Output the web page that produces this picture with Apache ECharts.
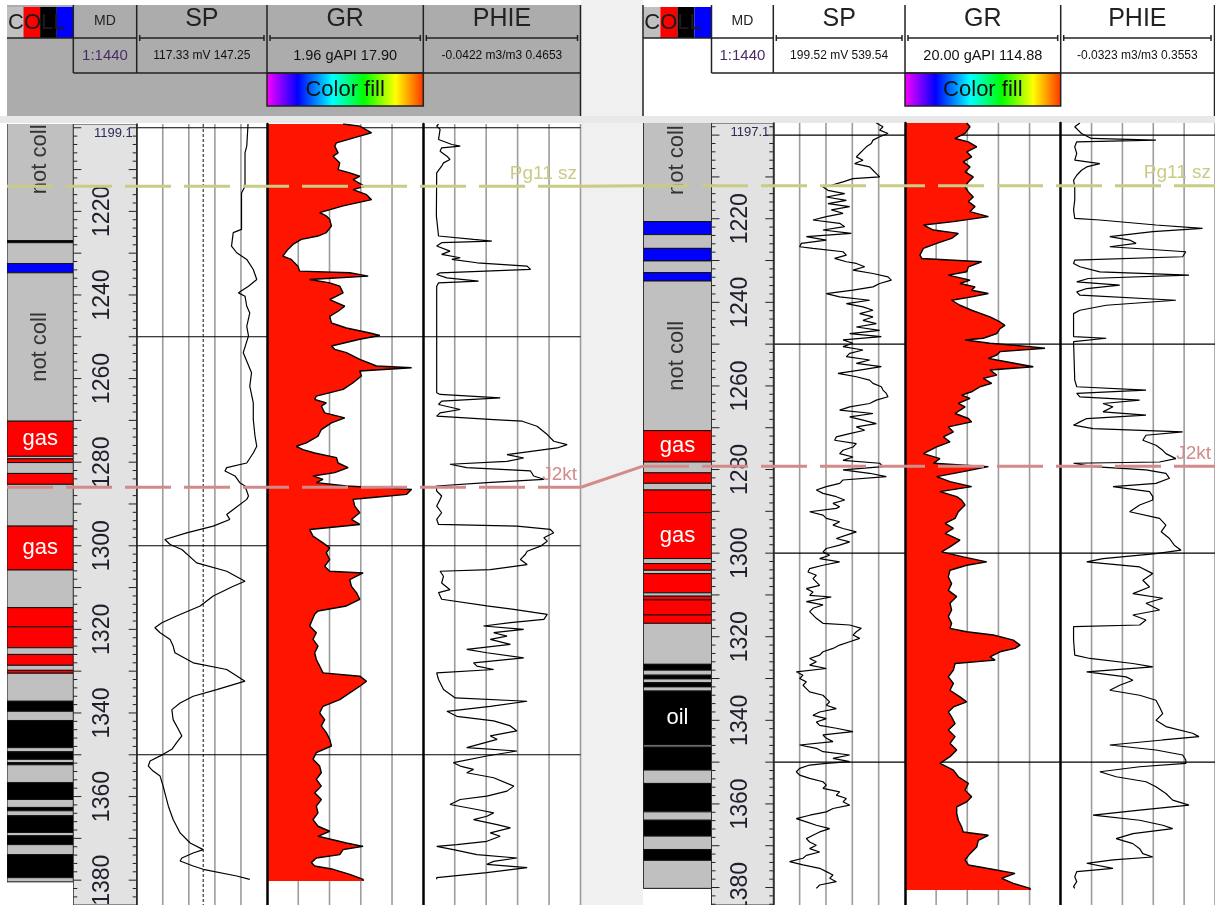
<!DOCTYPE html>
<html>
<head>
<meta charset="utf-8">
<script src="https://cdn.jsdelivr.net/npm/echarts/dist/echarts.min.js"></script>
<style>
html,body{margin:0;padding:0;background:#fff;}
#chart{width:1215px;height:905px;}
</style>
</head>
<body>
<div id="chart"></div>
<script>
const FONT = '"Liberation Sans", Arial, sans-serif';

// ---- depth axes ----
const leftDepthRange = [1199.1, 1385.94];
const rightDepthRange = [1197.1, 1384.18];
const depthLabels = [1220, 1240, 1260, 1280, 1300, 1320, 1340, 1360, 1380];
const depthGridLines = [1200, 1250, 1300, 1350];

// ---- curve scales (left / right edge of each track) ----
const leftSPScale = [117.33, 147.25];
const leftGRScale = [1.96, 17.90];
const leftPHIEScale = [-0.0422, 0.4653];
const rightSPScale = [199.52, 539.54];
const rightGRScale = [20.00, 114.88];
const rightPHIEScale = [-0.0323, 0.3553];
const leftSPBaseline = 132.6;

// ---- formation tops [name, depth] ----
const topsLeft = [['Pg11 sz', 1214.0], ['J2kt', 1286.0]];
const topsRight = [['Pg11 sz', 1212.1], ['J2kt', 1279.2]];
const topColors = {'Pg11 sz': '#cbcb86', 'J2kt': '#d28b8b'};

// ---- COLL intervals [top, bottom, class, label]; class 0 not coll, 1 gas, 2 oil, 3 water ----
const collColors = ['#c0c0c0', '#ff0000', '#000000', '#0000ff'];
const leftColl = [
  [1188.1, 1227.0, 0, 'not coll'], [1227.0, 1227.5, 2], [1227.5, 1232.5, 0], [1232.5, 1234.7, 3],
  [1234.7, 1270.2, 0, 'not coll'], [1270.2, 1278.6, 1, 'gas'], [1278.6, 1279.2, 0], [1279.2, 1280.1, 1],
  [1280.1, 1282.7, 0], [1282.7, 1285.3, 1], [1285.3, 1295.3, 0], [1295.3, 1305.8, 1, 'gas'],
  [1305.8, 1314.8, 0], [1314.8, 1319.4, 1], [1319.4, 1324.4, 1], [1324.4, 1326.0, 0],
  [1326.0, 1328.6, 1], [1328.6, 1329.8, 0], [1329.8, 1330.5, 1], [1330.5, 1337.2, 0],
  [1337.2, 1339.6, 2], [1339.6, 1341.8, 0], [1341.8, 1348.3, 2], [1348.3, 1349.3, 0],
  [1349.3, 1351.1, 2], [1351.1, 1351.9, 0], [1351.9, 1352.4, 2], [1352.4, 1356.7, 0],
  [1356.7, 1360.7, 2], [1360.7, 1362.6, 0], [1362.6, 1363.4, 2], [1363.4, 1364.6, 0],
  [1364.6, 1368.6, 2], [1368.6, 1369.4, 0], [1369.4, 1371.5, 2], [1371.5, 1373.9, 0],
  [1373.9, 1379.4, 2], [1379.4, 1380.4, 0]
];
const rightColl = [
  [1191.3, 1220.7, 0, 'not coll'], [1220.7, 1223.8, 3], [1223.8, 1227.1, 0], [1227.1, 1230.1, 3],
  [1230.1, 1232.9, 0], [1232.9, 1234.9, 3], [1234.9, 1270.7, 0, 'not coll'], [1270.7, 1278.2, 1, 'gas'],
  [1278.2, 1280.8, 0], [1280.8, 1283.3, 1], [1283.3, 1284.9, 0], [1284.9, 1290.3, 1],
  [1290.3, 1301.3, 1, 'gas'], [1301.3, 1302.5, 0], [1302.5, 1304.1, 1], [1304.1, 1304.9, 0],
  [1304.9, 1309.5, 1], [1309.5, 1310.3, 0], [1310.3, 1311.2, 1], [1311.2, 1314.8, 1],
  [1314.8, 1316.8, 1], [1316.8, 1326.6, 0], [1326.6, 1328.0, 2], [1328.0, 1329.2, 0],
  [1329.2, 1330.1, 2], [1330.1, 1331.0, 0], [1331.0, 1332.0, 2], [1332.0, 1333.0, 0],
  [1333.0, 1345.9, 2, 'oil'], [1345.9, 1346.4, 0], [1346.4, 1351.9, 2], [1351.9, 1355.1, 0],
  [1355.1, 1361.9, 2], [1361.9, 1363.9, 0], [1363.9, 1367.7, 2], [1367.7, 1370.9, 0],
  [1370.9, 1373.5, 2], [1373.5, 1380.2, 0]
];

// ---- log curves [depth, value] ----
const leftSP = [
  [1199.1,142.9],[1204.4,142.6],[1206.0,142.2],[1214.0,142.2],[1215.6,141.4],[1224.3,141.4],[1225.1,139.5],
  [1228.3,139.1],[1229.9,140.3],[1231.5,142.6],[1233.9,144.1],[1236.3,144.9],[1237.9,143.0],[1239.5,140.7],
  [1240.3,142.2],[1242.7,142.6],[1244.3,143.3],[1247.5,142.6],[1249.8,143.0],[1253.8,141.8],[1258.6,143.7],
  [1261.8,143.3],[1265.8,144.1],[1269.8,144.1],[1273.8,144.5],[1276.2,144.9],[1277.8,144.1],[1280.2,142.6],
  [1281.3,138.0],[1282.1,137.6],[1283.3,139.9],[1284.9,141.0],[1285.7,142.2],[1288.1,143.0],[1288.9,142.6],
  [1291.3,139.5],[1292.5,138.0],[1293.7,138.7],[1295.3,134.9],[1296.9,128.8],[1298.5,123.8],[1299.7,125.0],
  [1300.9,127.7],[1304.1,131.1],[1306.1,138.0],[1308.5,142.2],[1309.7,139.5],[1312.0,134.9],[1314.4,131.9],
  [1316.8,126.5],[1318.4,123.1],[1319.6,121.5],[1320.8,122.7],[1322.4,125.0],[1324.0,125.7],[1325.6,126.1],
  [1328.0,130.3],[1329.6,138.0],[1332.4,142.2],[1334.4,135.7],[1336.0,130.3],[1337.6,127.3],[1339.2,125.4],
  [1341.6,125.7],[1343.9,126.9],[1345.5,127.7],[1347.1,126.5],[1348.7,125.4],[1349.9,123.4],[1351.5,120.4],
  [1352.7,120.0],[1353.9,121.1],[1355.1,122.7],[1357.5,123.4],[1359.1,123.8],[1362.3,124.6],[1365.5,125.7],
  [1368.7,127.3],[1371.1,129.6],[1372.7,132.6],[1373.5,130.3],[1374.7,127.7],[1375.4,127.3],[1376.6,130.3],
  [1377.4,132.6],[1379.0,140.3],[1379.8,143.3]
];
const leftGR = [
  [1199.1,9.72],[1199.6,11.42],[1201.2,12.62],[1202.0,11.42],[1203.6,9.04],[1204.4,8.87],[1206.0,9.21],
  [1206.8,8.70],[1208.4,9.38],[1210.0,9.21],[1210.8,10.40],[1211.6,11.42],[1212.4,10.74],[1214.0,11.93],
  [1214.8,10.74],[1216.0,12.11],[1217.2,12.62],[1218.7,9.72],[1220.3,7.33],[1221.1,8.01],[1221.9,8.35],
  [1223.5,8.53],[1225.1,8.01],[1225.9,7.16],[1226.7,5.46],[1227.9,4.60],[1229.1,4.09],[1230.7,3.58],
  [1231.5,4.43],[1233.1,5.11],[1234.3,5.29],[1234.7,10.40],[1235.5,12.28],[1236.3,6.31],[1237.1,8.35],
  [1237.9,9.38],[1239.5,9.72],[1241.1,8.35],[1242.7,9.89],[1243.9,9.21],[1245.1,8.35],[1246.7,8.53],
  [1247.9,10.06],[1249.1,12.45],[1249.7,13.47],[1250.6,11.42],[1252.2,8.53],[1253.0,8.87],[1253.8,10.06],
  [1255.4,11.42],[1257.0,13.13],[1257.4,16.71],[1258.2,11.42],[1259.4,11.59],[1261.0,10.74],[1262.6,9.72],
  [1264.2,6.99],[1265.0,6.82],[1265.8,8.01],[1266.6,7.50],[1268.2,7.84],[1269.4,9.89],[1270.6,8.53],
  [1272.2,7.50],[1273.8,7.16],[1275.4,5.97],[1276.2,4.94],[1277.0,5.63],[1277.8,6.82],[1278.9,9.04],
  [1280.2,9.21],[1281.3,10.23],[1282.5,8.87],[1283.3,6.65],[1284.1,7.67],[1284.9,6.99],[1285.7,10.06],
  [1286.5,16.71],[1287.7,16.20],[1288.5,12.45],[1288.9,10.74],[1290.5,10.91],[1292.1,11.42],[1293.7,10.57],
  [1294.9,11.42],[1296.1,6.31],[1297.7,6.65],[1299.3,7.67],[1300.5,8.35],[1301.7,8.01],[1303.3,8.35],
  [1304.9,7.84],[1306.1,8.35],[1306.5,11.76],[1308.1,10.40],[1309.7,10.57],[1311.2,11.08],[1312.8,11.42],
  [1314.4,10.06],[1315.6,7.16],[1316.4,6.82],[1319.2,6.31],[1320.8,6.99],[1322.4,6.65],[1324.0,7.16],
  [1325.6,6.82],[1327.2,6.99],[1328.8,7.33],[1330.4,7.67],[1331.2,11.42],[1332.4,12.11],[1333.6,11.42],
  [1335.2,10.40],[1336.8,9.38],[1338.4,7.67],[1340.0,7.33],[1341.6,7.84],[1343.1,7.50],[1344.7,8.01],
  [1346.3,8.35],[1347.9,8.53],[1349.5,6.99],[1351.1,6.65],[1352.7,7.33],[1354.3,7.50],[1355.9,6.99],
  [1357.5,7.50],[1359.1,6.82],[1360.7,7.50],[1362.3,6.99],[1363.9,7.16],[1365.5,6.65],[1367.1,7.16],
  [1368.3,8.35],[1369.5,7.16],[1371.1,10.06],[1371.9,11.76],[1372.7,9.72],[1373.9,9.38],[1374.7,6.99],
  [1375.8,6.48],[1376.6,6.82],[1377.4,8.70],[1378.6,10.40],[1379.8,11.76],[1380.2,11.76]
];
const leftPHIE = [
  [1199.1,0.007],[1199.6,0.001],[1200.4,0.012],[1202.8,0.007],[1204.0,0.050],[1204.4,0.077],[1204.8,0.017],
  [1205.6,0.012],[1206.8,0.034],[1207.6,0.044],[1208.4,0.023],[1209.2,0.017],[1210.8,0.001],[1221.1,0.000],
  [1225.9,0.007],[1226.7,0.120],[1227.1,0.179],[1227.5,0.017],[1228.3,0.001],[1229.5,0.044],[1230.3,0.017],
  [1231.1,0.077],[1231.5,0.050],[1232.3,0.131],[1233.1,0.293],[1233.9,0.304],[1234.7,0.012],[1235.1,0.001],
  [1235.9,0.034],[1236.7,0.136],[1237.1,0.007],[1237.9,0.001],[1263.4,0.001],[1263.8,0.012],[1264.6,0.206],
  [1265.4,0.017],[1266.2,0.007],[1267.4,0.077],[1268.2,0.012],[1269.0,0.001],[1269.8,0.185],[1270.2,0.277],
  [1271.4,0.325],[1273.4,0.358],[1275.0,0.379],[1275.8,0.422],[1276.6,0.390],[1278.2,0.228],[1279.0,0.282],
  [1279.8,0.228],[1280.5,0.044],[1281.3,0.098],[1282.1,0.304],[1283.3,0.314],[1284.1,0.347],[1284.9,0.163],
  [1285.7,0.000],[1286.9,0.001],[1288.1,0.017],[1288.9,0.012],[1290.5,0.001],[1292.1,0.017],[1293.7,0.001],
  [1294.9,0.007],[1295.3,0.260],[1296.1,0.368],[1296.9,0.379],[1298.1,0.347],[1298.9,0.358],[1300.1,0.336],
  [1301.3,0.293],[1302.1,0.287],[1303.3,0.271],[1304.5,0.293],[1305.7,0.174],[1306.1,0.012],[1307.3,0.023],
  [1308.9,0.017],[1310.5,0.044],[1311.2,0.007],[1312.8,0.017],[1314.4,0.163],[1315.2,0.250],[1316.4,0.358],
  [1317.6,0.347],[1318.4,0.239],[1319.2,0.152],[1320.0,0.282],[1320.8,0.185],[1321.6,0.228],[1322.4,0.174],
  [1323.6,0.239],[1324.8,0.098],[1325.6,0.163],[1326.8,0.282],[1328.0,0.120],[1328.8,0.131],[1329.6,0.185],
  [1330.4,0.001],[1332.0,0.007],[1334.4,0.023],[1336.4,0.061],[1337.2,0.293],[1338.4,0.174],[1339.6,0.034],
  [1340.8,0.066],[1341.9,0.185],[1343.1,0.239],[1344.3,0.260],[1345.5,0.174],[1346.3,0.196],[1348.3,0.098],
  [1349.1,0.260],[1350.3,0.163],[1351.9,0.055],[1352.7,0.077],[1353.5,0.120],[1354.3,0.098],[1355.5,0.185],
  [1357.5,0.250],[1358.7,0.228],[1359.9,0.163],[1360.7,0.077],[1361.9,0.044],[1363.1,0.131],[1363.9,0.185],
  [1364.7,0.163],[1365.5,0.120],[1366.7,0.196],[1367.5,0.239],[1368.7,0.174],[1369.5,0.206],[1370.7,0.163],
  [1371.5,0.066],[1371.9,0.001],[1372.7,0.055],[1373.9,0.131],[1374.7,0.260],[1375.5,0.185],[1376.2,0.163],
  [1377.0,0.293],[1378.2,0.163],[1379.4,0.001],[1379.8,0.001]
];
const rightSP = [
  [1197.1,465.5],[1198.0,482.7],[1198.8,474.1],[1199.6,495.6],[1200.4,474.1],[1201.2,456.9],[1202.0,452.6],
  [1202.8,439.7],[1203.6,431.1],[1204.4,422.5],[1205.2,413.9],[1206.0,431.1],[1206.8,409.6],[1207.6,448.3],
  [1208.4,456.9],[1209.2,465.5],[1210.0,474.1],[1210.4,405.3],[1211.2,379.5],[1212.0,349.3],[1212.4,327.8],
  [1213.2,340.7],[1214.0,383.8],[1214.8,336.4],[1215.6,388.1],[1216.4,340.7],[1217.1,396.7],[1217.9,349.3],
  [1218.7,379.5],[1219.5,336.4],[1220.3,302.0],[1221.1,370.8],[1221.9,383.8],[1222.7,327.8],[1223.5,401.0],
  [1224.3,284.8],[1225.1,336.4],[1225.9,271.9],[1226.7,267.6],[1227.1,302.0],[1227.9,379.5],[1228.7,388.1],
  [1229.5,357.9],[1230.3,388.1],[1230.7,413.9],[1231.5,435.4],[1232.3,405.3],[1233.1,456.9],[1233.9,495.6],
  [1234.7,504.2],[1235.5,474.1],[1236.3,456.9],[1237.1,405.3],[1237.9,336.4],[1238.7,370.8],[1239.5,448.3],
  [1240.3,388.1],[1241.1,431.1],[1241.9,456.9],[1242.7,422.5],[1243.5,456.9],[1244.3,431.1],[1245.1,465.5],
  [1245.9,413.9],[1246.7,474.1],[1247.5,396.7],[1248.2,478.4],[1249.0,379.5],[1249.8,405.3],[1250.6,379.5],
  [1251.4,431.1],[1252.2,396.7],[1253.0,388.1],[1253.8,448.3],[1254.6,413.9],[1255.4,478.4],[1256.2,422.5],
  [1257.0,366.5],[1257.8,413.9],[1258.6,448.3],[1259.4,456.9],[1260.2,478.4],[1261.0,482.7],[1261.8,491.3],
  [1262.6,495.6],[1263.4,465.5],[1264.2,448.3],[1265.0,396.7],[1265.8,370.8],[1266.6,456.9],[1267.4,396.7],
  [1268.2,431.1],[1269.0,465.5],[1269.8,413.9],[1270.6,435.4],[1271.4,396.7],[1272.2,362.2],[1273.0,357.9],
  [1273.8,413.9],[1274.6,405.3],[1275.4,379.5],[1276.2,370.8],[1277.0,405.3],[1277.8,379.5],[1278.5,474.1],
  [1279.3,482.7],[1280.1,379.5],[1280.9,448.3],[1281.7,491.3],[1282.5,379.5],[1283.3,370.8],[1284.1,336.4],
  [1284.9,310.6],[1285.7,327.8],[1286.5,362.2],[1287.3,383.8],[1288.1,353.6],[1288.9,370.8],[1289.3,362.2],
  [1290.1,293.4],[1290.9,327.8],[1291.7,336.4],[1292.5,370.8],[1293.3,353.6],[1294.1,379.5],[1294.9,413.9],
  [1295.7,388.1],[1296.5,362.2],[1297.3,396.7],[1298.1,370.8],[1298.9,336.4],[1299.7,327.8],[1300.5,345.0],
  [1301.3,319.2],[1302.1,370.8],[1302.9,327.8],[1303.7,293.4],[1304.5,289.1],[1305.3,310.6],[1306.1,302.0],
  [1307.7,319.2],[1308.5,284.8],[1309.3,302.0],[1310.1,293.4],[1310.5,349.3],[1311.6,284.8],[1312.4,327.8],
  [1313.2,302.0],[1314.0,293.4],[1315.6,310.6],[1316.8,327.8],[1317.2,396.7],[1318.0,426.8],[1318.8,413.9],
  [1319.6,405.3],[1320.4,422.5],[1321.2,396.7],[1322.0,370.8],[1322.8,353.6],[1323.6,327.8],[1324.4,319.2],
  [1325.2,293.4],[1326.0,310.6],[1326.8,293.4],[1327.6,336.4],[1328.4,258.9],[1329.2,276.2],[1330.0,267.6],
  [1330.8,284.8],[1331.6,276.2],[1332.4,284.8],[1333.2,293.4],[1334.0,327.8],[1334.8,336.4],[1335.6,345.0],
  [1336.4,336.4],[1337.2,362.2],[1338.0,319.2],[1338.8,302.0],[1339.6,336.4],[1340.4,310.6],[1341.2,319.2],
  [1341.9,362.2],[1342.7,405.3],[1343.5,327.8],[1344.3,336.4],[1345.1,353.6],[1345.9,267.6],[1346.7,310.6],
  [1347.5,327.8],[1348.3,396.7],[1349.1,353.6],[1349.9,396.7],[1350.3,336.4],[1350.7,293.4],[1351.5,267.6],
  [1352.3,258.9],[1353.1,267.6],[1353.9,293.4],[1354.7,327.8],[1355.5,336.4],[1356.3,327.8],[1357.1,370.8],
  [1357.9,362.2],[1358.7,388.1],[1359.5,379.5],[1360.3,396.7],[1361.1,353.6],[1361.9,336.4],[1362.7,293.4],
  [1363.5,258.9],[1364.3,284.8],[1365.1,310.6],[1365.9,345.0],[1366.7,319.2],[1367.5,302.0],[1368.3,284.8],
  [1369.1,293.4],[1369.9,310.6],[1370.7,293.4],[1371.5,319.2],[1372.3,284.8],[1373.0,276.2],[1373.8,241.7],
  [1374.6,276.2],[1375.4,319.2],[1376.2,336.4],[1377.0,353.6],[1377.8,345.0],[1378.6,362.2],[1379.4,319.2],
  [1380.2,310.6]
];
const rightGR = [
  [1197.1,57.6],[1198.0,59.6],[1199.6,56.6],[1200.8,50.5],[1201.6,58.6],[1202.8,63.7],[1204.0,57.6],
  [1205.2,60.6],[1206.4,55.5],[1207.6,59.6],[1208.8,56.6],[1210.0,61.6],[1211.2,58.6],[1212.4,56.6],
  [1213.6,58.6],[1214.8,61.6],[1215.9,58.6],[1217.1,62.7],[1218.3,59.6],[1219.5,70.8],[1220.7,49.5],
  [1221.5,31.2],[1222.7,37.3],[1223.5,52.5],[1224.7,48.4],[1225.9,39.3],[1227.1,31.2],[1228.7,29.1],
  [1229.5,30.2],[1230.3,66.7],[1231.5,58.6],[1232.7,57.6],[1233.5,46.4],[1234.7,59.6],[1235.5,53.5],
  [1236.3,62.7],[1237.1,60.6],[1237.9,70.8],[1238.7,60.6],[1239.5,48.4],[1240.7,53.5],[1241.9,60.6],
  [1243.5,71.8],[1244.7,77.9],[1245.5,80.9],[1246.3,77.9],[1247.5,75.9],[1248.6,67.7],[1249.0,56.6],
  [1249.8,71.8],[1250.6,96.2],[1251.0,105.3],[1251.8,77.9],[1252.6,75.9],[1253.4,70.8],[1253.8,75.9],
  [1255.4,98.2],[1256.2,71.8],[1257.4,75.9],[1258.2,67.7],[1259.4,72.8],[1260.2,65.7],[1261.4,60.6],
  [1262.2,54.5],[1263.0,59.6],[1264.2,52.5],[1265.0,56.6],[1266.6,50.5],[1267.8,58.6],[1268.6,60.6],
  [1269.8,46.4],[1271.0,49.5],[1272.2,43.4],[1273.4,47.4],[1274.6,39.3],[1276.2,31.2],[1277.4,41.3],
  [1278.5,37.3],[1279.3,70.8],[1280.5,55.5],[1281.7,39.3],[1282.9,47.4],[1284.1,60.6],[1285.3,41.3],
  [1286.5,51.5],[1287.3,54.5],[1288.5,56.6],[1290.1,52.5],[1291.7,50.5],[1292.9,44.4],[1294.1,49.5],
  [1295.3,44.4],[1296.9,53.5],[1298.5,47.4],[1299.7,42.3],[1300.9,55.5],[1302.1,69.8],[1302.9,57.6],
  [1304.1,47.4],[1305.7,46.4],[1307.3,48.4],[1308.9,46.4],[1310.4,51.5],[1312.0,47.4],[1313.6,48.4],
  [1315.2,46.4],[1316.8,48.4],[1318.0,47.4],[1318.8,57.6],[1319.6,73.8],[1320.8,86.0],[1322.0,90.1],
  [1322.8,87.0],[1323.6,77.9],[1324.8,71.8],[1325.6,74.9],[1326.4,50.5],[1328.0,49.5],[1329.6,46.4],
  [1331.2,49.5],[1332.8,47.4],[1334.4,53.5],[1335.6,57.6],[1336.8,49.5],[1338.0,46.4],[1339.2,48.4],
  [1340.8,50.5],[1342.3,46.4],[1343.9,50.5],[1345.5,47.4],[1347.1,51.5],[1348.7,47.4],[1350.3,41.3],
  [1351.9,49.5],[1353.5,52.5],[1355.1,58.6],[1356.7,56.6],[1358.3,60.6],[1359.5,57.6],[1360.7,51.5],
  [1362.3,51.5],[1363.9,52.5],[1365.5,54.5],[1366.7,55.5],[1367.5,70.8],[1368.7,64.7],[1370.3,63.7],
  [1371.9,59.6],[1373.4,56.6],[1374.6,58.6],[1375.4,69.8],[1376.6,87.0],[1377.8,78.9],[1379.0,86.0],
  [1380.2,96.2],[1380.6,96.2]
];
const rightPHIE = [
  [1197.1,0.016],[1198.0,0.003],[1199.6,0.020],[1200.8,0.045],[1201.2,0.207],[1201.6,0.008],[1202.8,0.003],
  [1204.4,0.008],[1206.0,0.003],[1206.8,0.066],[1207.6,0.033],[1208.4,0.020],[1209.6,0.008],[1210.8,0.000],
  [1212.4,0.003],[1215.5,0.003],[1217.9,0.000],[1219.9,0.003],[1220.3,0.066],[1221.5,0.207],[1222.3,0.324],
  [1223.1,0.199],[1224.3,0.091],[1225.1,0.141],[1225.9,0.157],[1226.7,0.091],[1227.9,0.282],[1229.1,0.274],
  [1229.9,0.003],[1230.7,0.000],[1231.5,0.016],[1232.7,0.066],[1233.5,0.290],[1234.3,0.037],[1235.1,0.008],
  [1235.9,0.116],[1236.7,0.033],[1237.5,0.008],[1238.3,0.016],[1239.5,0.257],[1240.7,0.082],[1241.9,0.016],
  [1242.7,0.000],[1248.2,0.000],[1248.6,0.082],[1249.4,0.000],[1258.6,0.003],[1260.2,0.008],[1261.0,0.182],
  [1261.8,0.008],[1262.6,0.016],[1263.4,0.166],[1264.2,0.074],[1265.0,0.099],[1266.2,0.074],[1267.0,0.182],
  [1267.8,0.033],[1268.6,0.016],[1269.4,0.000],[1270.2,0.049],[1271.0,0.274],[1271.8,0.182],[1273.0,0.174],
  [1274.2,0.207],[1275.4,0.224],[1276.2,0.232],[1277.4,0.257],[1278.2,0.216],[1278.5,0.000],[1279.3,0.049],
  [1280.1,0.182],[1280.9,0.232],[1282.1,0.241],[1283.3,0.207],[1284.1,0.099],[1285.3,0.191],[1286.5,0.199],
  [1287.3,0.199],[1288.5,0.166],[1290.1,0.141],[1291.7,0.216],[1293.3,0.232],[1294.9,0.220],[1296.5,0.241],
  [1298.1,0.253],[1299.3,0.270],[1300.1,0.207],[1301.3,0.074],[1302.1,0.033],[1303.3,0.166],[1304.9,0.199],
  [1306.5,0.174],[1308.1,0.191],[1309.7,0.149],[1310.8,0.224],[1312.0,0.182],[1313.6,0.216],[1314.8,0.149],
  [1316.0,0.182],[1317.2,0.166],[1317.6,0.000],[1320.8,0.000],[1324.4,0.003],[1325.2,0.041],[1326.4,0.149],
  [1327.2,0.199],[1328.4,0.033],[1329.6,0.132],[1330.4,0.149],[1331.6,0.116],[1332.8,0.091],[1334.0,0.166],
  [1335.2,0.207],[1336.8,0.216],[1338.4,0.224],[1340.0,0.207],[1341.5,0.232],[1343.1,0.299],[1343.9,0.315],
  [1344.7,0.224],[1345.9,0.091],[1347.1,0.207],[1348.3,0.274],[1349.5,0.282],[1350.3,0.282],[1351.1,0.166],
  [1352.3,0.066],[1353.5,0.107],[1354.7,0.182],[1355.9,0.207],[1357.5,0.232],[1359.1,0.249],[1360.3,0.290],
  [1361.5,0.166],[1362.7,0.049],[1363.9,0.166],[1365.1,0.224],[1365.9,0.249],[1367.1,0.149],[1368.3,0.107],
  [1369.5,0.149],[1370.7,0.166],[1371.9,0.174],[1372.7,0.199],[1373.4,0.099],[1374.2,0.033],[1375.4,0.099],
  [1376.2,0.008],[1377.4,0.003],[1378.6,0.008],[1379.8,0.000],[1380.2,0.003]
];

// ---- page layout of the two well panels ----
const leftLayout = {
  panel: [7, 581], top: 124, height: 781, depth: leftDepthRange, headerBg: '#acacac',
  coll: [7, 73.3], md: [73.3, 136.7], sp: [136.7, 267], gr: [267, 423.3], phie: [423.3, 580.5]
};
const rightLayout = {
  panel: [643, 1215], top: 123, height: 782, depth: rightDepthRange, headerBg: '#ffffff',
  coll: [643.3, 711.5], md: [711.5, 773.3], sp: [773.3, 905], gr: [905, 1060.7], phie: [1060.7, 1216]
};

const grids = [], xAxes = [], yAxes = [], series = [];

function addGrid(xr, top, height, scale, depth, border) {
  const gi = grids.length;
  grids.push({left: xr[0], top: top, width: xr[1] - xr[0], height: height, show: false});
  xAxes.push({gridIndex: gi, type: 'value', min: scale[0], max: scale[1], show: false});
  yAxes.push({
    gridIndex: gi, type: 'value', min: depth[0], max: depth[1], inverse: true,
    show: !!border, z: 10,
    axisLine: {show: !!border, onZero: false, lineStyle: border || {}},
    axisTick: {show: false}, axisLabel: {show: false}, splitLine: {show: false}
  });
  return gi;
}

function seg(x1, y1, x2, y2, stroke, w, dash) {
  const s = {stroke: stroke, lineWidth: w};
  if (dash) s.lineDash = dash;
  return {type: 'line', shape: {x1: x1, y1: y1, x2: x2, y2: y2}, style: s};
}

// vertical divisions and depth lines of a curve track
function trackGridSeries(gi, scale, depth, lastTrack, dashedAt) {
  return {
    type: 'custom', xAxisIndex: gi, yAxisIndex: gi, z: 1, silent: true, clip: true,
    data: [[scale[0], depth[0]]],
    renderItem: function (params, api) {
      const ch = [];
      const kEnd = lastTrack ? 5 : 4;
      for (let k = 1; k <= kEnd; k++) {
        const xv = scale[0] + (scale[1] - scale[0]) * k / 5;
        const a = api.coord([xv, depth[0]]), b = api.coord([xv, depth[1]]);
        ch.push(seg(a[0], a[1], b[0], b[1], '#9c9c9c', 1.6));
      }
      if (dashedAt != null) {
        const a = api.coord([dashedAt, depth[0]]), b = api.coord([dashedAt, depth[1]]);
        ch.push(seg(a[0], a[1], b[0], b[1], '#111', 1, [3, 2]));
      }
      depthGridLines.forEach(function (d) {
        const a = api.coord([scale[0], d]), b = api.coord([scale[1], d]);
        ch.push(seg(a[0], a[1], b[0], b[1], '#000', 1.2));
      });
      return {type: 'group', children: ch};
    }
  };
}

function fillSeries(gi, curve, xmin) {
  return {
    type: 'custom', xAxisIndex: gi, yAxisIndex: gi, z: 2, silent: true, clip: true,
    data: [[xmin, curve[0][0]]],
    renderItem: function (params, api) {
      const pts = [api.coord([xmin, curve[0][0]])];
      curve.forEach(function (p) { pts.push(api.coord([p[1], p[0]])); });
      pts.push(api.coord([xmin, curve[curve.length - 1][0]]));
      return {type: 'polygon', shape: {points: pts}, style: {fill: '#ff1400'}};
    }
  };
}

function curveSeries(gi, curve, width) {
  return {
    type: 'line', xAxisIndex: gi, yAxisIndex: gi, z: 3, silent: true, clip: true,
    data: curve.map(function (p) { return [p[1], p[0]]; }),
    symbol: 'none', showSymbol: false, animation: false,
    lineStyle: {color: '#000', width: width}
  };
}

function collSeries(gi, blocks) {
  return {
    type: 'custom', xAxisIndex: gi, yAxisIndex: gi, z: 2, silent: true, clip: true,
    data: blocks.map(function (b) { return [0, b[0]]; }),
    renderItem: function (params, api) {
      const b = blocks[params.dataIndex];
      const p0 = api.coord([0, b[0]]), p1 = api.coord([1, b[1]]);
      const rect = {
        type: 'rect',
        shape: {x: p0[0], y: p0[1], width: p1[0] - p0[0], height: p1[1] - p0[1]},
        style: {fill: collColors[b[2]], stroke: '#111', lineWidth: 1}
      };
      if (!b[3]) return rect;
      const vertical = b[2] === 0;
      return {type: 'group', children: [rect, {
        type: 'text', x: (p0[0] + p1[0]) / 2, y: (p0[1] + p1[1]) / 2,
        rotation: vertical ? Math.PI / 2 : 0,
        style: {
          text: b[3], x: 0, y: 0, textAlign: 'center', textVerticalAlign: 'middle',
          align: 'center', verticalAlign: 'middle',
          font: '22px ' + FONT, fill: vertical ? '#333' : '#ffffff'
        }
      }]};
    }
  };
}

function mdSeries(gi, depth) {
  return {
    type: 'custom', xAxisIndex: gi, yAxisIndex: gi, z: 2, silent: true, clip: true,
    data: [[0, depth[0]]],
    renderItem: function (params, api) {
      const a = api.coord([0, depth[0]]), b = api.coord([1, depth[1]]);
      const ch = [{type: 'rect', shape: {x: a[0], y: a[1], width: b[0] - a[0], height: b[1] - a[1]},
        style: {fill: '#e2e2e2', stroke: '#333', lineWidth: 1}}];
      for (let d = Math.ceil(depth[0] / 2) * 2; d <= depth[1]; d += 2) {
        const y = api.coord([0, d])[1];
        const len = d % 10 === 0 ? 8 : 4;
        ch.push(seg(a[0], y, a[0] + len, y, '#222', 1));
        ch.push(seg(b[0] - len, y, b[0], y, '#222', 1));
      }
      depthLabels.forEach(function (d) {
        const p = api.coord([0.5, d]);
        ch.push({
          type: 'text', x: p[0] - 2, y: p[1], rotation: Math.PI / 2,
          style: {text: String(d), x: 0, y: 0, textAlign: 'center', textVerticalAlign: 'middle',
            align: 'center', verticalAlign: 'middle', font: '23px ' + FONT, fill: '#1e1e2c'}
        });
      });
      ch.push({
        type: 'text',
        style: {text: depth[0].toFixed(1), x: b[0] - 4, y: a[1] + 9, textAlign: 'right',
          textVerticalAlign: 'middle', align: 'right', verticalAlign: 'middle',
          font: '13px ' + FONT, fill: '#2a2a5a'}
      });
      return {type: 'group', children: ch};
    }
  };
}

function topsSeries(gi, tops) {
  return {
    type: 'custom', xAxisIndex: gi, yAxisIndex: gi, z: 12, silent: true, clip: false,
    data: tops.map(function (t) { return [0, t[1]]; }),
    renderItem: function (params, api) {
      const t = tops[params.dataIndex];
      const a = api.coord([0, t[1]]), b = api.coord([1, t[1]]);
      const color = topColors[t[0]];
      return {type: 'group', children: [
        seg(a[0], a[1], b[0], b[1], color, 3, [46, 13]),
        {type: 'text', style: {text: t[0], x: b[0] - 4, y: a[1] - 3, textAlign: 'right',
          textVerticalAlign: 'bottom', align: 'right', verticalAlign: 'bottom',
          font: '19px ' + FONT, fill: color}}
      ]};
    }
  };
}

function buildWell(L, coll, sp, spScale, gr, grScale, phie, phieScale, spBase, tops) {
  const g1 = addGrid(L.coll, L.top, L.height, [0, 1], L.depth, null);
  series.push(collSeries(g1, coll));
  const g2 = addGrid(L.md, L.top, L.height, [0, 1], L.depth, null);
  series.push(mdSeries(g2, L.depth));
  const g3 = addGrid(L.sp, L.top, L.height, spScale, L.depth, {color: '#222', width: 1.5});
  series.push(trackGridSeries(g3, spScale, L.depth, false, spBase));
  series.push(curveSeries(g3, sp, 1.2));
  const g4 = addGrid(L.gr, L.top, L.height, grScale, L.depth, {color: '#000', width: 2.5});
  series.push(trackGridSeries(g4, grScale, L.depth, false, null));
  series.push(fillSeries(g4, gr, grScale[0]));
  series.push(curveSeries(g4, gr, 1.4));
  const g5 = addGrid(L.phie, L.top, L.height, phieScale, L.depth, {color: '#000', width: 2.5});
  series.push(trackGridSeries(g5, phieScale, L.depth, true, null));
  series.push(curveSeries(g5, phie, 1.2));
  const g6 = addGrid(L.panel, L.top, L.height, [0, 1], L.depth, null);
  series.push(topsSeries(g6, tops));
  return g6;
}

const leftOverlay = buildWell(leftLayout, leftColl, leftSP, leftSPScale, leftGR, leftGRScale,
  leftPHIE, leftPHIEScale, leftSPBaseline, topsLeft);
const rightOverlay = buildWell(rightLayout, rightColl, rightSP, rightSPScale, rightGR, rightGRScale,
  rightPHIE, rightPHIEScale, null, topsRight);

// ---- track headers ----
function txt(text, x, y, size, color, align) {
  return {type: 'text', z: 5, style: {text: text, x: x, y: y, font: size + 'px ' + FONT, fill: color || '#222',
    textAlign: align || 'center', textVerticalAlign: 'middle', align: align || 'center', verticalAlign: 'middle'}};
}
function gline(x1, y1, x2, y2, w, color) {
  return {type: 'line', z: 5, shape: {x1: x1, y1: y1, x2: x2, y2: y2}, style: {stroke: color || '#222', lineWidth: w || 1}};
}
function header(L, spText, grText, phieText) {
  const g = [];
  g.push({type: 'rect', z: 1, shape: {x: L.panel[0], y: 5, width: L.panel[1] - L.panel[0], height: 111}, style: {fill: L.headerBg}});
  const cw = (L.coll[1] - L.coll[0]) / 4;
  collColors.forEach(function (c, i) {
    g.push({type: 'rect', z: 4, shape: {x: L.coll[0] + i * cw, y: 7, width: cw, height: 31}, style: {fill: c}});
  });
  g.push(txt('COLL', L.coll[0] + 1, 23, 22, '#1c1c1c', 'left'));
  g.push(gline(L.coll[0], 38, L.md[1], 38, 1.5));
  const right = Math.min(L.phie[1], 1215);
  [L.md[0], L.sp[0], L.gr[0], L.phie[0]].forEach(function (x) { g.push(gline(x, 5, x, 73, 1.5)); });
  g.push(gline(L.panel[1] - 0.5, 5, L.panel[1] - 0.5, 116, 1.5));
  if (L.panel[0] > 300) g.push(gline(L.panel[0], 5, L.panel[0], 116, 1.5));
  g.push(gline(L.md[0], 73, right, 73, 1.5));
  g.push(txt('MD', (L.md[0] + L.md[1]) / 2, 21, 14));
  g.push(txt('1:1440', (L.md[0] + L.md[1]) / 2, 56, 15, '#4a2a68'));
  [[L.sp, 'SP', spText, 12], [L.gr, 'GR', grText, 14.5], [L.phie, 'PHIE', phieText, 12]].forEach(function (t) {
    const x0 = t[0][0], x1 = Math.min(t[0][1], 1214);
    const cx = (x0 + x1) / 2;
    g.push(txt(t[1], cx, 19, 25));
    g.push(gline(x0 + 3, 38, x1 - 3, 38, 1.5));
    g.push(gline(x0 + 3, 35, x0 + 3, 41, 1.5));
    g.push(gline(x1 - 3, 35, x1 - 3, 41, 1.5));
    g.push(txt(t[2], cx, 56, t[3], '#111'));
  });
  g.push({type: 'rect', z: 4, shape: {x: L.gr[0], y: 73, width: L.gr[1] - L.gr[0], height: 33},
    style: {stroke: '#222', lineWidth: 1.5, fill: new echarts.graphic.LinearGradient(0, 0, 1, 0, [
      {offset: 0, color: '#ff00ff'}, {offset: 0.2, color: '#0000ff'}, {offset: 0.42, color: '#00ffff'},
      {offset: 0.62, color: '#00ff00'}, {offset: 0.82, color: '#ffff00'}, {offset: 1, color: '#ff3000'}])}});
  g.push(txt('Color fill', (L.gr[0] + L.gr[1]) / 2, 90, 22, '#111'));
  return g;
}

const baseGraphics = [
  {type: 'rect', z: 0, shape: {x: 581, y: 0, width: 62, height: 905}, style: {fill: '#f0f0f0'}},
  {type: 'rect', z: 0, shape: {x: 0, y: 116, width: 1215, height: 7}, style: {fill: '#e8e8e8'}}
].concat(header(leftLayout, '117.33 mV 147.25', '1.96 gAPI 17.90', '-0.0422 m3/m3 0.4653'))
 .concat(header(rightLayout, '199.52 mV 539.54', '20.00 gAPI 114.88', '-0.0323 m3/m3 0.3553'));

const chart = echarts.init(document.getElementById('chart'), null, {renderer: 'canvas'});
chart.setOption({
  animation: false,
  backgroundColor: '#ffffff',
  grid: grids, xAxis: xAxes, yAxis: yAxes, series: series,
  graphic: {elements: baseGraphics}
});

// lines joining each formation top across the gap between the wells
const connectors = topsLeft.map(function (t, i) {
  const pl = chart.convertToPixel({gridIndex: leftOverlay}, [1, t[1]]);
  const pr = chart.convertToPixel({gridIndex: rightOverlay}, [0, topsRight[i][1]]);
  return {type: 'line', z: 20, shape: {x1: pl[0], y1: pl[1], x2: pr[0], y2: pr[1]},
    style: {stroke: topColors[t[0]], lineWidth: 3}};
});
chart.setOption({graphic: {elements: baseGraphics.concat(connectors)}});
</script>
</body>
</html>
